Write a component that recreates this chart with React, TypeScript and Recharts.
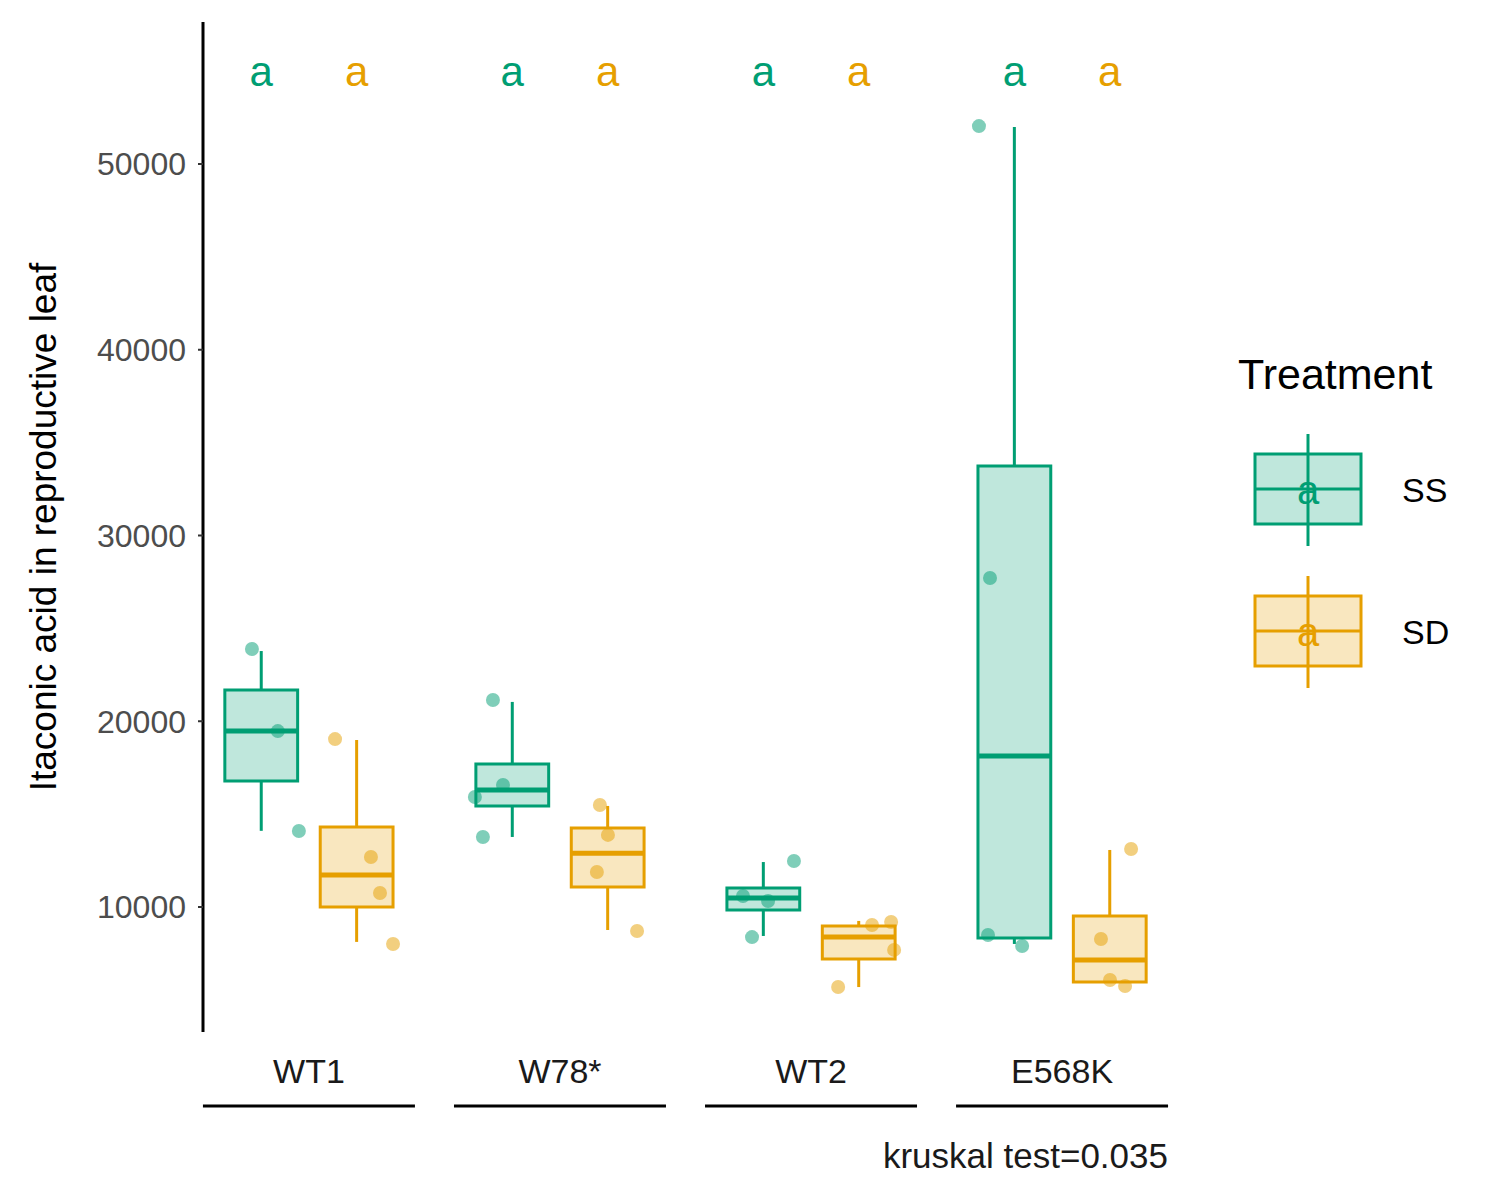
import { ComposedChart, XAxis, YAxis, Scatter, ReferenceArea, ReferenceLine } from "recharts";

const groups = ["WT1", "W78*", "WT2", "E568K"];
const treatments = ["SS", "SD"];
const colors: Record<string, string> = { SS: "#009E73", SD: "#E69F00" };
const offsets: Record<string, number> = { SS: -0.19, SD: 0.19 };
const halfWidth = 0.145;

// [lowWhisker, q1, median, q3, highWhisker] per group
const ssBoxes = [
  [14100, 16780, 19470, 21680, 23780],
  [13770, 15440, 16300, 17700, 21040],
  [8440, 9840, 10480, 11020, 12420],
  [8010, 8330, 18130, 33740, 51990],
];
const sdBoxes = [
  [8120, 10000, 11720, 14300, 18990],
  [8760, 11080, 12900, 14250, 15440],
  [5690, 7200, 8380, 8980, 9250],
  [5960, 5960, 7150, 9520, 13070],
];

// raw points: [x, value]
const ssPoints = [
  [0.773, 23890], [0.876, 19470], [0.96, 14090],
  [1.733, 21140], [1.773, 16570], [1.661, 15920], [1.693, 13770],
  [2.729, 10590], [2.829, 10320], [2.932, 12480], [2.765, 8380],
  [3.669, 52040], [3.713, 27710], [3.705, 8490], [3.841, 7900],
];
const sdPoints = [
  [1.104, 19040], [1.247, 12690], [1.283, 10750], [1.335, 8010],
  [2.159, 15490], [2.191, 13880], [2.147, 11880], [2.307, 8710],
  [3.108, 5690], [3.243, 9030], [3.319, 9190], [3.331, 7690],
  [4.275, 13120], [4.155, 8280], [4.191, 6070], [4.251, 5750],
];
const letterValue = 54950;
const letters = ["a", "a", "a", "a"];
const yTicks = [10000, 20000, 30000, 40000, 50000];

const boxes: Record<string, number[][]> = { SS: ssBoxes, SD: sdBoxes };
const pts: Record<string, number[][]> = { SS: ssPoints, SD: sdPoints };

const font = "Arial, 'Liberation Sans', sans-serif";

const XTick = (props: any) => {
  const { x, y, payload } = props;
  return (
    <g>
      <text x={x} y={y + 43} textAnchor="middle" fontSize={34} fill="#1a1a1a" fontFamily={font}>
        {groups[payload.value - 1]}
      </text>
      <line x1={x - 106} x2={x + 106} y1={y + 66} y2={y + 66} stroke="#000" strokeWidth={3} />
    </g>
  );
};

function LegendKey({ t, top }: { t: string; top: number }) {
  const c = colors[t];
  return (
    <svg style={{ position: "absolute", left: 1250, top }} width={120} height={120}>
      <line x1={58} x2={58} y1={0} y2={112} stroke={c} strokeWidth={3} />
      <rect x={5} y={20} width={106} height={70} fill={c} fillOpacity={0.25} stroke={c} strokeWidth={3} />
      <line x1={5} x2={111} y1={55} y2={55} stroke={c} strokeWidth={3} />
      <text x={58} y={70} textAnchor="middle" fontSize={40} fill={c} fontFamily={font}>a</text>
    </svg>
  );
}

export default function App() {
  return (
    <div style={{ position: "absolute", left: 0, top: 0, width: 1500, height: 1200, background: "#fff", fontFamily: font }}>
      <ComposedChart width={1500} height={1200} margin={{ top: 22, right: 332, bottom: 68, left: 93 }}>
        <XAxis type="number" dataKey="x" domain={[0.578, 4.422]} ticks={[1, 2, 3, 4]} axisLine={false} tickLine={false} tick={<XTick />} height={100} allowDataOverflow />
        <YAxis type="number" dataKey="y" domain={[3270, 57645]} ticks={yTicks} allowDataOverflow width={110}
          axisLine={{ stroke: "#000", strokeWidth: 3 }} tickLine={{ stroke: "#333", strokeWidth: 2 }} tickSize={5} tickMargin={12}
          tick={{ fontSize: 32, fill: "#4d4d4d", fontFamily: font }}
          label={{ value: "Itaconic acid in reproductive leaf", angle: -90, position: "insideLeft", offset: -50, style: { fontSize: 37, fill: "#000", fontFamily: font, textAnchor: "middle" } }} />
        {treatments.map((t) =>
          boxes[t].map((b, i) => {
            const cx = i + 1 + offsets[t];
            const c = colors[t];
            return [
              <ReferenceLine key={`${t}${i}wl`} segment={[{ x: cx, y: b[0] }, { x: cx, y: b[1] }]} stroke={c} strokeWidth={3} />,
              <ReferenceLine key={`${t}${i}wh`} segment={[{ x: cx, y: b[3] }, { x: cx, y: b[4] }]} stroke={c} strokeWidth={3} />,
              <ReferenceArea key={`${t}${i}b`} x1={cx - halfWidth} x2={cx + halfWidth} y1={b[1]} y2={b[3]} fill={c} fillOpacity={0.25} stroke={c} strokeWidth={3} />,
              <ReferenceLine key={`${t}${i}m`} segment={[{ x: cx - halfWidth, y: b[2] }, { x: cx + halfWidth, y: b[2] }]} stroke={c} strokeWidth={5} />,
            ];
          })
        )}
        {treatments.map((t) => (
          <Scatter key={t} data={pts[t].map(([x, y]) => ({ x, y }))} fill={colors[t]} fillOpacity={0.5} isAnimationActive={false}
            shape={(p: any) => <circle cx={p.cx} cy={p.cy} r={7} fill={colors[t]} fillOpacity={0.5} />} />
        ))}
        {treatments.map((t) => (
          <Scatter key={`l${t}`} data={letters.map((l, i) => ({ x: i + 1 + offsets[t], y: letterValue, l }))} isAnimationActive={false}
            shape={(p: any) => <text x={p.cx} y={p.cy + 14} textAnchor="middle" fontSize={42} fill={colors[t]} fontFamily={font}>{p.payload.l}</text>} />
        ))}
      </ComposedChart>
      <div style={{ position: "absolute", left: 1238, top: 350, fontSize: 43, color: "#000" }}>Treatment</div>
      <LegendKey t="SS" top={434} />
      <LegendKey t="SD" top={576} />
      <div style={{ position: "absolute", left: 1402, top: 471, fontSize: 34 }}>SS</div>
      <div style={{ position: "absolute", left: 1402, top: 613, fontSize: 34 }}>SD</div>
      <div style={{ position: "absolute", right: 332, top: 1136, fontSize: 35, color: "#1a1a1a" }}>kruskal test=0.035</div>
    </div>
  );
}
